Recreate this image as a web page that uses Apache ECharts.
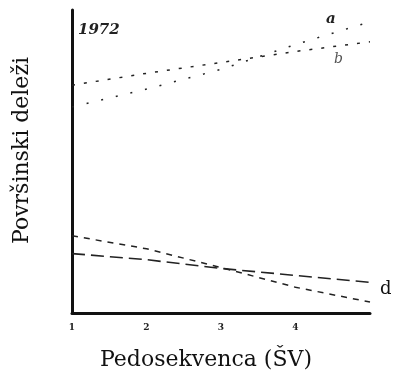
<!DOCTYPE html>
<html><head><meta charset="utf-8">
<script src="https://cdn.jsdelivr.net/npm/echarts@6/dist/echarts.min.js"></script>
<style>html,body{margin:0;padding:0;background:#fff}#c{width:393px;height:376px}</style>
</head><body><div id="c"></div>
<script>
var xValues = [1, 2, 3, 4, 5];
var tickLabels = ["1", "2", "3", "4", ""];
var seriesA = [75.2, 79.1, 82.7, 86.3, 89.5];
var seriesB = [68.0, 73.9, 80.4, 88.6, 96.1];
var seriesC = [25.5, 21.2, 15.0, 8.5, 3.6];
var seriesD = [19.6, 17.6, 14.7, 12.4, 10.1];
var yearLabel = "1972";
var xTitle = "Pedosekvenca (ŠV)";
var yTitle = "Površinski deleži";

function pairs(vals){ return xValues.map(function(x,i){ return [x, vals[i]]; }); }
var chart = echarts.init(document.getElementById('c'));
function ln(name, vals, dash, w){
  return {type:'line', name:name, data:pairs(vals), showSymbol:false, smooth:false,
    lineStyle:{color:'#222', width:w, type:dash}};
}
chart.setOption({
  animation:false,
  backgroundColor:'#fff',
  grid:{left:72, top:10, width:298, height:306},
  xAxis:{type:'value', min:1, max:5, interval:1,
    axisLine:{lineStyle:{color:'#111', width:3}},
    axisTick:{show:false}, splitLine:{show:false},
    axisLabel:{color:'#222', fontSize:9, fontWeight:'bold', fontFamily:'DejaVu Serif', margin:10,
      formatter:function(v){ return tickLabels[Math.round(v)-1] || ''; }},
    name:xTitle, nameLocation:'middle', nameGap:36,
    nameTextStyle:{fontFamily:'DejaVu Serif', fontSize:22, color:'#111', padding:[0,30,0,0]}},
  yAxis:{type:'value', min:0, max:100,
    axisLine:{show:true, lineStyle:{color:'#111', width:3}},
    axisTick:{show:false}, splitLine:{show:false}, axisLabel:{show:false},
    name:yTitle, nameLocation:'middle', nameGap:39,
    nameTextStyle:{fontFamily:'DejaVu Serif', fontSize:22, color:'#111', padding:[0,0,0,22]}},
  series:[
    ln('a', seriesA, [3,9], 1.5),
    ln('b', seriesB, [2,13], 1.5),
    ln('c', seriesC, [6,6], 1.5),
    ln('d', seriesD, [13,6], 1.6)
  ],
  graphic:[
    {type:'text', left:78, top:23, style:{text:yearLabel, font:'italic bold 15px "DejaVu Serif"', fill:'#222'}},
    {type:'text', left:326, top:12, style:{text:'a', font:'italic bold 15px "DejaVu Serif"', fill:'#222'}},
    {type:'text', left:334, top:52, style:{text:'b', font:'italic 14px "DejaVu Serif"', fill:'#555'}},
    {type:'text', left:380, top:280, style:{text:'d', font:'18px "DejaVu Serif"', fill:'#111'}}
  ]
});
</script></body></html>
